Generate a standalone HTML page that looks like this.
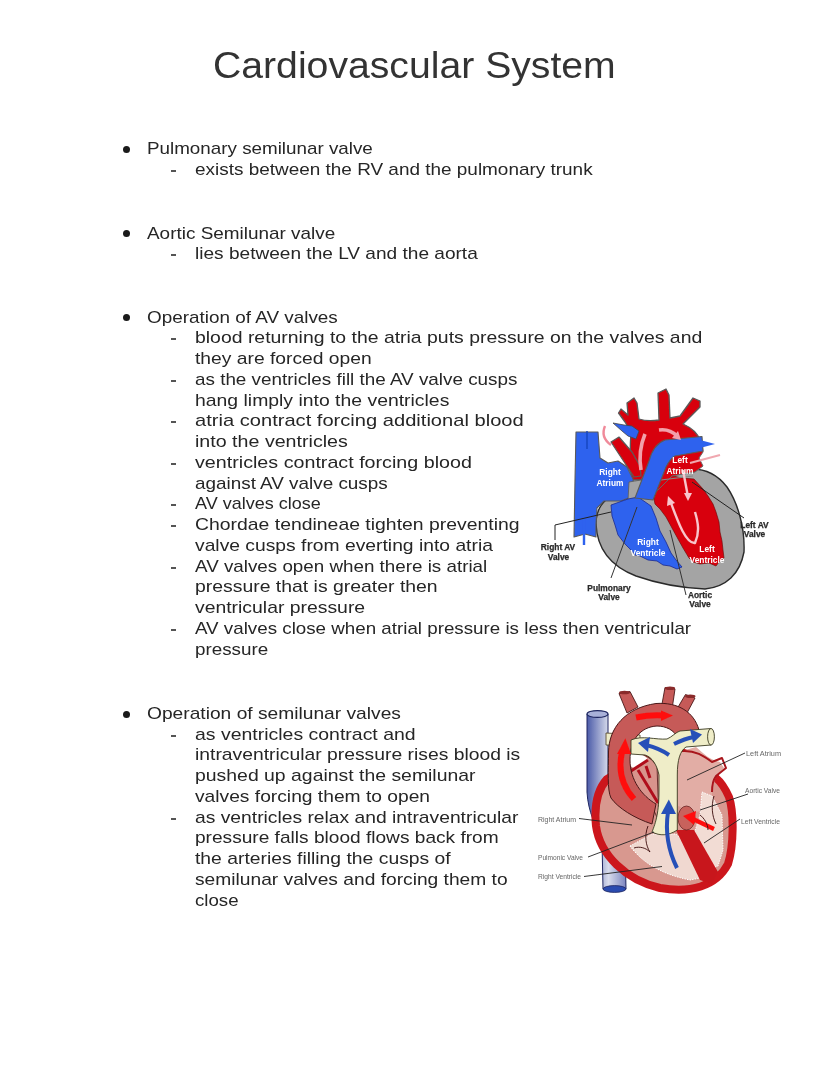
<!DOCTYPE html>
<html><head><meta charset="utf-8"><style>
html,body{margin:0;padding:0;background:#fff;}
body{width:828px;height:1071px;position:relative;overflow:hidden;font-family:"Liberation Sans",sans-serif;color:#262626;}
.l{position:absolute;white-space:nowrap;font-size:17px;line-height:17px;transform-origin:0 0;filter:blur(0.3px);}
.t{position:absolute;white-space:nowrap;font-size:37px;line-height:37px;transform-origin:0 0;color:#333;}
.bul{position:absolute;width:7px;height:7px;border-radius:50%;background:#1a1a1a;}
.dash{position:absolute;width:5px;height:2px;background:#555;}
svg{position:absolute;left:0;top:0;}
</style></head><body>
<div class="t" id="title" style="left:213px;top:46.88px;transform:scaleX(1.0587)">Cardiovascular System</div>
<div class="l" id="l0" style="left:147px;top:139.91px;transform:scaleX(1.1064)">Pulmonary semilunar valve</div>
<div class="bul" style="left:123.0px;top:146.10px"></div>
<div class="l" id="l1" style="left:195px;top:160.91px;transform:scaleX(1.1141)">exists between the RV and the pulmonary trunk</div>
<div class="dash" style="left:171px;top:170px"></div>
<div class="l" id="l2" style="left:147px;top:224.91px;transform:scaleX(1.1131)">Aortic Semilunar valve</div>
<div class="bul" style="left:123.0px;top:230.20px"></div>
<div class="l" id="l3" style="left:195px;top:244.91px;transform:scaleX(1.1220)">lies between the LV and the aorta</div>
<div class="dash" style="left:171px;top:254px"></div>
<div class="l" id="l4" style="left:147px;top:308.91px;transform:scaleX(1.1113)">Operation of AV valves</div>
<div class="bul" style="left:123.0px;top:314.40px"></div>
<div class="l" id="l5" style="left:195px;top:328.91px;transform:scaleX(1.1420)">blood returning to the atria puts pressure on the valves and</div>
<div class="dash" style="left:171px;top:338px"></div>
<div class="l" id="l6" style="left:195px;top:349.91px;transform:scaleX(1.1331)">they are forced open</div>
<div class="l" id="l7" style="left:195px;top:370.91px;transform:scaleX(1.1090)">as the ventricles fill the AV valve cusps</div>
<div class="dash" style="left:171px;top:380px"></div>
<div class="l" id="l8" style="left:195px;top:391.91px;transform:scaleX(1.1405)">hang limply into the ventricles</div>
<div class="l" id="l9" style="left:195px;top:411.91px;transform:scaleX(1.1830)">atria contract forcing additional blood</div>
<div class="dash" style="left:171px;top:421px"></div>
<div class="l" id="l10" style="left:195px;top:432.91px;transform:scaleX(1.1552)">into the ventricles</div>
<div class="l" id="l11" style="left:195px;top:453.91px;transform:scaleX(1.1582)">ventricles contract forcing blood</div>
<div class="dash" style="left:171px;top:463px"></div>
<div class="l" id="l12" style="left:195px;top:474.91px;transform:scaleX(1.1105)">against AV valve cusps</div>
<div class="l" id="l13" style="left:195px;top:494.91px;transform:scaleX(1.0598)">AV valves close</div>
<div class="dash" style="left:171px;top:504px"></div>
<div class="l" id="l14" style="left:195px;top:515.91px;transform:scaleX(1.1408)">Chordae tendineae tighten preventing</div>
<div class="dash" style="left:171px;top:525px"></div>
<div class="l" id="l15" style="left:195px;top:536.91px;transform:scaleX(1.1341)">valve cusps from everting into atria</div>
<div class="l" id="l16" style="left:195px;top:557.91px;transform:scaleX(1.1057)">AV valves open when there is atrial</div>
<div class="dash" style="left:171px;top:567px"></div>
<div class="l" id="l17" style="left:195px;top:577.91px;transform:scaleX(1.1412)">pressure that is greater then</div>
<div class="l" id="l18" style="left:195px;top:598.91px;transform:scaleX(1.1395)">ventricular pressure</div>
<div class="l" id="l19" style="left:195px;top:619.91px;transform:scaleX(1.1038)">AV valves close when atrial pressure is less then ventricular</div>
<div class="dash" style="left:171px;top:629px"></div>
<div class="l" id="l20" style="left:195px;top:640.91px;transform:scaleX(1.1071)">pressure</div>
<div class="l" id="l21" style="left:147px;top:704.91px;transform:scaleX(1.1291)">Operation of semilunar valves</div>
<div class="bul" style="left:123.0px;top:710.50px"></div>
<div class="l" id="l22" style="left:195px;top:725.91px;transform:scaleX(1.1447)">as ventricles contract and</div>
<div class="dash" style="left:171px;top:735px"></div>
<div class="l" id="l23" style="left:195px;top:745.91px;transform:scaleX(1.1361)">intraventricular pressure rises blood is</div>
<div class="l" id="l24" style="left:195px;top:766.91px;transform:scaleX(1.1416)">pushed up against the semilunar</div>
<div class="l" id="l25" style="left:195px;top:787.91px;transform:scaleX(1.1306)">valves forcing them to open</div>
<div class="l" id="l26" style="left:195px;top:808.91px;transform:scaleX(1.1335)">as ventricles relax and intraventricular</div>
<div class="dash" style="left:171px;top:818px"></div>
<div class="l" id="l27" style="left:195px;top:828.91px;transform:scaleX(1.1236)">pressure falls blood flows back from</div>
<div class="l" id="l28" style="left:195px;top:849.91px;transform:scaleX(1.1371)">the arteries filling the cusps of</div>
<div class="l" id="l29" style="left:195px;top:870.91px;transform:scaleX(1.1291)">semilunar valves and forcing them to</div>
<div class="l" id="l30" style="left:195px;top:891.91px;transform:scaleX(1.0973)">close</div>
<svg width="828" height="1071" viewBox="0 0 828 1071">
<defs>
<filter id="bl" x="-5%" y="-5%" width="110%" height="110%"><feGaussianBlur stdDeviation="0.45"/></filter>
<linearGradient id="col" x1="0" x2="1" y1="0" y2="0">
<stop offset="0" stop-color="#4a5aa8"/><stop offset="0.55" stop-color="#d8dcec"/><stop offset="1" stop-color="#7c86c0"/>
</linearGradient>
<radialGradient id="pk" cx="0.5" cy="0.5" r="0.6">
<stop offset="0" stop-color="#f4dcd6"/><stop offset="1" stop-color="#d9968e"/>
</radialGradient>
</defs>
<!-- ================= HEART 1 ================= -->
<g filter="url(#bl)" stroke-linejoin="round">
<!-- gray body -->
<path d="M596,524 C597,548 610,566 636,576 C656,583 682,588 705,589 C726,587 740,574 744,552 C745,528 738,503 727,487 C717,474 705,469 692,469 L650,474 L606,500 C599,506 596,514 596,524 Z" fill="#a4a4a4" stroke="#2a2a2a" stroke-width="1.4"/>
<!-- red LV -->
<path d="M654,499 L657,486 L658,479 L669,475 L682,478 L694,479 L703,489 L708,496 L713,504 L716,512 L719,522 L720,532 L722,541 L723,550 L724,558 L719,562 L716,566 L709,563 L700,564 L693,562 L689,558 L683,548 L678,539 L672,528 L666,517 L660,509 L655,504 Z" fill="#d8060e" stroke="#6a0000" stroke-width="0.6"/>
<!-- red left atrium region -->
<path d="M654,452 L702,444 L703,452 L699,458 L703,466 L695,472 L672,476 L658,490 L645,494 Z" fill="#d8060e" stroke="#666" stroke-width="1"/>
<path d="M661,480 L693,476" stroke="#888" stroke-width="1.2"/>
<!-- red aorta arch Y -->
<path d="M631,474 C630,460 630,445 631,432 L625,422 L618.5,413 L621,409 L628,415 L627,403 L634,398 L637,403 L639,419 C645,421 652,421 659,420 L658,393 L666,389 L669,395 L670,418 L680,416 L693,398 L700,401 L700,407 L683,424 C692,428 698,434 700,440 L662,444 L654,450 L645,474 L641,480 L631,480 Z" fill="#d8060e" stroke="#5a5a5a" stroke-width="1.3"/>
<!-- red pulmonary vein diagonal -->
<path d="M611,442 L619,437 L632,452 L640,466 L641,476 L634,477 Z" fill="#d8060e" stroke="#5a5a5a" stroke-width="1.2"/>
<!-- blue RA + SVC + IVC -->
<path d="M576,432 L598,432 L600,458 L608,463 L618,461 L627,467 L633,479 L634,490 L631,497 L621,501 L604,501 L597,508 L596,524 L596,537 L585,534 L574,537 L575,480 Z" fill="#2f62ee" stroke="#5a5a5a" stroke-width="1.1"/>
<path d="M629,482 L641,480 L644,483 L636,498 L628,500 Z" fill="#a4a4a4" stroke="#5a5a5a" stroke-width="0.8"/>
<!-- blue RV -->
<path d="M611,505 L628,499 L638,497 L651,506 L656,518 L660,531 L666,542 L671,553 L676,560 L682,567 L677,569 L670,566 L663,565 L657,561 L648,560 L640,556 L635,555 L630,549 L625,544 L618,535 L615,525 L612,516 Z" fill="#2f62ee" stroke="#1a2a90" stroke-width="0.8"/>
<!-- blue pulmonary trunk -->
<path d="M635,498 L649,461 C652,450 657,443 665,440 L702,436.5 L703,451 L675,456 C670,459 668,463 666,467 L653,500 Z" fill="#2f62ee" stroke="#5a5a5a" stroke-width="1.1"/>
<path d="M700,440 L715,444 L700,448 Z" fill="#2f62ee"/>
<!-- blue left PA branch -->
<path d="M613,423 L624,425 L632,426 L639,431 L636,439 L628,436 L622,431 Z" fill="#2f62ee" stroke="#444" stroke-width="0.8"/>
<!-- arrows on blue -->
<path d="M584,516 L584,545" stroke="#2f62ee" stroke-width="2.4" fill="none"/>
<path d="M587,431 L587,449" stroke="#1a48c0" stroke-width="1.5" fill="none"/>
<!-- pink arrows -->
<path d="M605,426 C602,433 604,440 611,445" stroke="#f08a9a" stroke-width="2.4" fill="none"/>
<path d="M690,463 L720,455" stroke="#f0a8b0" stroke-width="2" fill="none"/>
<path d="M641,470 C639,458 640,446 645,434" stroke="#f2a0aa" stroke-width="3.6" fill="none"/>
<path d="M659,430 C666,429 672,431 677,436" stroke="#f2a0aa" stroke-width="3.6" fill="none"/><path d="M681,440 L672,438 L678,431 Z" fill="#f2a0aa"/>
<path d="M683,470 L688,497" stroke="#f8c4cc" stroke-width="2.4" fill="none"/>
<path d="M688,501 L684,493 L692,493 Z" fill="#f8c4cc"/>
<path d="M671,503 C678,522 686,544 695,543 C700,532 698,522 695,512" stroke="#f8c4cc" stroke-width="2.4" fill="none"/>
<path d="M668,496 L667,506 L675,503 Z" fill="#f8c4cc"/>
<!-- leader lines -->
<path d="M555,540 L555,525 L611,512" stroke="#222" stroke-width="1" fill="none"/>
<path d="M611,578 L637,507" stroke="#333" stroke-width="1" fill="none"/>
<path d="M744,518 L692,482" stroke="#222" stroke-width="1" fill="none"/>
<path d="M686,595 L670,530" stroke="#333" stroke-width="1" fill="none"/>
</g>
<g font-family="Liberation Sans" font-weight="bold" font-size="8.4" text-anchor="middle" filter="url(#bl)">
<g fill="#fff">
<text x="610" y="475">Right</text>
<text x="610" y="486">Atrium</text>
<text x="680" y="463">Left</text>
<text x="680" y="474">Atrium</text>
<text x="648" y="545">Right</text>
<text x="648" y="555.5">Ventricle</text>
<text x="707" y="552">Left</text>
<text x="707" y="563">Ventricle</text>
</g>
<g fill="#2a2a2a" stroke="#2a2a2a" stroke-width="0.25">
<text x="558" y="550">Right AV</text>
<text x="558.5" y="559.5">Valve</text>
<text x="754.5" y="527.5">Left AV</text>
<text x="754.5" y="537">Valve</text>
<text x="609" y="590.5">Pulmonary</text>
<text x="609" y="600">Valve</text>
<text x="700" y="597.5">Aortic</text>
<text x="700" y="607">Valve</text>
</g>
</g>
<!-- ================= HEART 2 ================= -->
<g filter="url(#bl)" stroke-linejoin="round">
<!-- blue column -->
<path d="M587,714 L587,792 C588,812 596,826 602,842 L603,889 L626,889 L625,842 C619,822 609,808 608,788 L608,714 Z" fill="url(#col)" stroke="#1e2660" stroke-width="1"/>
<ellipse cx="597.5" cy="714" rx="10.5" ry="3.4" fill="#a8b0d8" stroke="#1e2660" stroke-width="1.1"/>
<ellipse cx="614.5" cy="889" rx="11.5" ry="3.4" fill="#2c4cb0" stroke="#1e2660" stroke-width="0.8"/>
<!-- yellow left band behind arch -->
<path d="M606,733 L640,735 L640,746 L606,745 Z" fill="#eeecc8" stroke="#4a3a20" stroke-width="0.8"/>
<!-- heart body: pink with dark red ring -->
<path d="M607,779 C598,789 594,806 596,826 C600,855 626,880 660,888 C690,893 716,887 728,864 C734,845 734,812 729,797 C725,788 721,782 716,778 L700,758 L678,751 L640,758 Z" fill="#d8988f" stroke="#cc161c" stroke-width="8"/>
<!-- region inside arch leg: pink with veins -->
<path d="M630,753 C640,752 650,756 657,766 L659,822 L652,806 C640,797 632,785 631,770 Z" fill="#d8948c" stroke="#4a1818" stroke-width="0.8"/>
<path d="M630,753 C638,752 646,756 648,760 L634,768 L630,766 Z" fill="#ffffff"/>
<path d="M631,771 L648,760 M638,770 L658,803 M646,766 L650,778" stroke="#b0101a" stroke-width="3" fill="none"/>
<!-- pink RV lower with white jagged -->
<path d="M630,846 C642,862 660,874 690,880 L700,878 L697,853 L676,834 L652,834 Z" fill="#f0d8d0" stroke="#fff" stroke-width="1" stroke-dasharray="1.4 1.2"/>
<!-- LA pink upper right -->
<path d="M678,752 L696,747 C704,754 710,760 720,762 L724,768 L716,776 L712,790 L712,810 L694,812 L678,806 Z" fill="#e2ada5"/>
<path d="M682,751 C695,750 704,756 712,762 L722,758 L726,768 L716,776 C713,780 712,786 712,792" stroke="#a8141a" stroke-width="2" fill="none"/>
<!-- LV pink right -->
<path d="M702,792 L712,796 L722,815 L723,850 L718,866 L712,868 L694,834 L700,815 Z" fill="#f2dcd4" stroke="#fff" stroke-width="1" stroke-dasharray="1.4 1.2"/>

<!-- septum -->
<path d="M676,830 L694,830 L718,872 L712,884 L700,880 Z" fill="#c8141a"/>
<!-- aortic valve bump -->
<ellipse cx="686.5" cy="818" rx="8.5" ry="12" fill="#c8625c" stroke="#5a1a1a" stroke-width="0.7"/>
<!-- arch vessels -->
<path d="M619,693.5 L630,691.5 L638,707 L627,713 Z" fill="#c65a58" stroke="#4a1818" stroke-width="0.9"/>
<ellipse cx="624.5" cy="692.5" rx="5.5" ry="1.8" fill="#8a2a2a"/>
<path d="M665,687.5 L675,689 L672.5,706 L662,704 Z" fill="#c65a58" stroke="#4a1818" stroke-width="0.9"/>
<ellipse cx="670" cy="688.3" rx="5.2" ry="1.8" fill="#8a2a2a"/>
<path d="M685.5,694.5 L695,698 L687,713 L677.5,708 Z" fill="#c65a58" stroke="#4a1818" stroke-width="0.9"/>
<ellipse cx="690.3" cy="696.3" rx="5.2" ry="1.8" fill="#8a2a2a"/>
<!-- aortic arch -->
<path d="M608.5,752 C609,728 625,708 656,703.5 C678,702 694,712 699,730 L700,744 L678,738 C674,730 666,726 657,726 C640,727 630,740 630,760 C630,780 642,796 656,804 L652,824 C634,818 618,808 611,798 C607,790 608.5,770 608.5,752 Z" fill="#c65a58" stroke="#4a1818" stroke-width="1"/>
<!-- yellow trunk T -->
<path d="M631,740 C642,735 656,740 667,739 C672,737 676,732 680,731 L711,728.5 L711,745 L686,747 C680,751 677.3,760 677.3,775 L677.3,830 C668,836 660,836 652,832 C656,822 659,812 659,790 L659,775 C657,765 652,757 645,755 L631,754 Z" fill="#efedc8" stroke="#3a3a20" stroke-width="0.9"/>
<ellipse cx="711" cy="736.8" rx="3.4" ry="8.3" fill="#efedc8" stroke="#3a3a20" stroke-width="0.9"/>
<!-- blue arrows -->
<path d="M669,755 C662,750 654,747 646,745" stroke="#2850b8" stroke-width="4" fill="none"/>
<path d="M638,743 L650,737 L648,752 Z" fill="#2850b8"/>
<path d="M674,744 C682,740 688,738 694,737" stroke="#2850b8" stroke-width="4" fill="none"/>
<path d="M702,734.5 L690,729 L693,743 Z" fill="#2850b8"/>
<path d="M677,868 C668,850 665,832 668,812" stroke="#2850b8" stroke-width="4" fill="none"/>
<path d="M668.8,799.5 L661,814 L676,814 Z" fill="#2850b8"/>
<!-- red arrows -->
<path d="M636,717.5 C648,715 658,715 664,715.5" stroke="#ff1010" stroke-width="6" fill="none"/>
<path d="M673,715.6 L661,710.5 L661,721 Z" fill="#ff1010"/>
<path d="M634,799 C622,786 618,770 622,752" stroke="#ff1010" stroke-width="6" fill="none"/>
<path d="M625.4,738.3 L617,754 L631,754 Z" fill="#ff1010"/>
<path d="M714,829 L693,819" stroke="#ff1010" stroke-width="4.2" fill="none"/>
<path d="M683,816 L696,811 L694,825 Z" fill="#ff1010"/>
<!-- chordae lines -->
<path d="M648,826 C644,836 646,846 650,852 M634,848 C640,846 646,848 650,852 M700,815 C704,818 708,824 708,830 M714,796 C711,806 712,816 716,824" stroke="#3a0a0a" stroke-width="0.9" fill="none"/>
<!-- leader lines -->
<path d="M745,753 L687,780" stroke="#222" stroke-width="0.9" fill="none"/>
<path d="M748,794 L700,810" stroke="#222" stroke-width="0.9" fill="none"/>
<path d="M740,819 L704,843" stroke="#222" stroke-width="0.9" fill="none"/>
<path d="M579,818.5 L632,825" stroke="#222" stroke-width="0.9" fill="none"/>
<path d="M588,857 L654,832" stroke="#222" stroke-width="0.9" fill="none"/>
<path d="M584,876.5 L662,866.5" stroke="#222" stroke-width="0.9" fill="none"/>
</g>
<g font-family="Liberation Sans" font-size="6.4" fill="#666" filter="url(#bl)">
<text x="746" y="756" textLength="35" lengthAdjust="spacingAndGlyphs">Left Atrium</text>
<text x="745" y="792.5" textLength="35" lengthAdjust="spacingAndGlyphs">Aortic Valve</text>
<text x="741" y="824" textLength="39" lengthAdjust="spacingAndGlyphs">Left Ventricle</text>
<text x="538" y="821.5" textLength="38" lengthAdjust="spacingAndGlyphs">Right Atrium</text>
<text x="538" y="859.5" textLength="45" lengthAdjust="spacingAndGlyphs">Pulmonic Valve</text>
<text x="538" y="879" textLength="43" lengthAdjust="spacingAndGlyphs">Right Ventricle</text>
</g>
</svg>
</body></html>
